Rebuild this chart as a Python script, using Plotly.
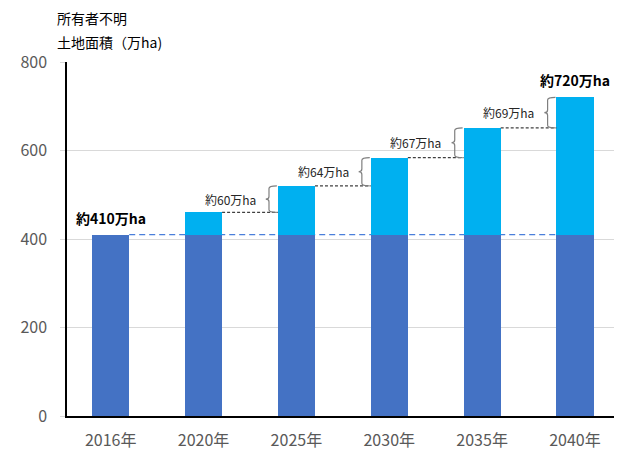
import plotly.graph_objects as go

years = ["2016年", "2020年", "2025年", "2030年", "2035年", "2040年"]
totals = [410, 460, 520, 584, 651, 720]
base_value = 410
y_ticks = [0, 200, 400, 600, 800]
title_lines = ["所有者不明", "土地面積（万ha)"]

FONT = "Noto Sans CJK JP"
DARK = "#4472C4"
LIGHT = "#00B0F0"
GRAY = "#595959"

n = len(years)
xs = list(range(n))
base = [base_value] * n
extra = [t - base_value for t in totals]
BW = 0.4

fig = go.Figure()
fig.add_trace(go.Bar(x=xs, y=base, marker=dict(color=DARK, line=dict(width=0)), width=BW))
fig.add_trace(go.Bar(x=xs, y=extra, marker=dict(color=LIGHT, line=dict(width=0)), width=BW))

shapes = []
annotations = []
# blue dashed line at base level
shapes.append(dict(type="line", xref="x", yref="y", x0=0 + BW / 2, x1=n - 1 - BW / 2,
                   y0=base_value, y1=base_value, layer="between",
                   line=dict(color="#4A7FDB", width=1.3, dash="6px,4px")))

for i in range(2, n):
    prev, cur = totals[i - 1], totals[i]
    left = i - BW / 2
    xv = left - 0.095
    xt = left - 0.13
    xh = left - 0.01
    mid = (prev + cur) / 2
    r = 6
    # dotted connector
    shapes.append(dict(type="line", xref="x", yref="y", x0=i - 1 + BW / 2, x1=left,
                       y0=prev, y1=prev, layer="above",
                       line=dict(color="#404040", width=1.2, dash="3px,2px")))
    path = (f"M {xh},{cur} Q {xv},{cur} {xv},{cur - r} L {xv},{mid + r} "
            f"Q {xv},{mid} {xt},{mid} Q {xv},{mid} {xv},{mid - r} "
            f"L {xv},{prev + r} Q {xv},{prev} {xh},{prev}")
    shapes.append(dict(type="path", xref="x", yref="y", path=path,
                       line=dict(color="#7F7F7F", width=1.2)))
    annotations.append(dict(x=xt, y=mid, xref="x", yref="y", text=f"約{cur - prev}万ha",
                            showarrow=False, xanchor="right", yanchor="middle", xshift=-8,
                            font=dict(family=FONT, size=12, color="#262626")))

annotations.append(dict(x=0, y=totals[0], xref="x", yref="y", text=f"<b>約{totals[0]}万ha</b>",
                        showarrow=False, xanchor="center", yanchor="bottom", yshift=5,
                        font=dict(family=FONT, size=14, color="#000000")))
annotations.append(dict(x=n - 1, y=totals[-1], xref="x", yref="y", text=f"<b>約{totals[-1]}万ha</b>",
                        showarrow=False, xanchor="center", yanchor="bottom", yshift=5,
                        font=dict(family=FONT, size=14, color="#000000")))

# page body has an 8px margin: figure spans (8,8)-(634,454) of the window
OFF = 8
for k, line in enumerate(title_lines):
    annotations.append(dict(x=55 - OFF, y=18 + 24 * k - OFF, xref="paper", yref="paper", text=line,
                            showarrow=False, xanchor="left", yanchor="middle",
                            font=dict(family=FONT, size=14, color="#000000")))

W, H = 634 - OFF, 454 - OFF
L, T = 67 - OFF, 62 - OFF
R, B = 20, 38
pw, ph = W - L - R, H - T - B
for a in annotations:
    if a["xref"] == "paper":
        a["x"] = (a["x"] - L) / pw
        a["y"] = (H - B - a["y"]) / ph

fig.update_layout(
    width=W, height=H,
    margin=dict(l=L, r=R, t=T, b=B, autoexpand=False),
    paper_bgcolor="white", plot_bgcolor="white",
    barmode="stack", showlegend=False,
    font=dict(family=FONT, color=GRAY),
    shapes=shapes, annotations=annotations,
    xaxis=dict(range=[-0.47, 5.42], tickvals=xs, ticktext=years, showgrid=False,
               showline=True, linecolor="#000000", linewidth=1.5, ticks="", zeroline=False,
               tickfont=dict(family=FONT, size=16, color=GRAY), ticklabelstandoff=9,
               fixedrange=True, automargin=False),
    yaxis=dict(range=[0, 800], tickvals=y_ticks, showgrid=True, gridcolor="#D9D9D9", gridwidth=1,
               showline=True, linecolor="#000000", linewidth=1.5, zeroline=False,
               ticks="outside", ticklen=5, tickcolor="#D9D9D9", automargin=False,
               tickfont=dict(family=FONT, size=16, color=GRAY), ticklabelstandoff=10),
)

fig.write_html("out.html")
